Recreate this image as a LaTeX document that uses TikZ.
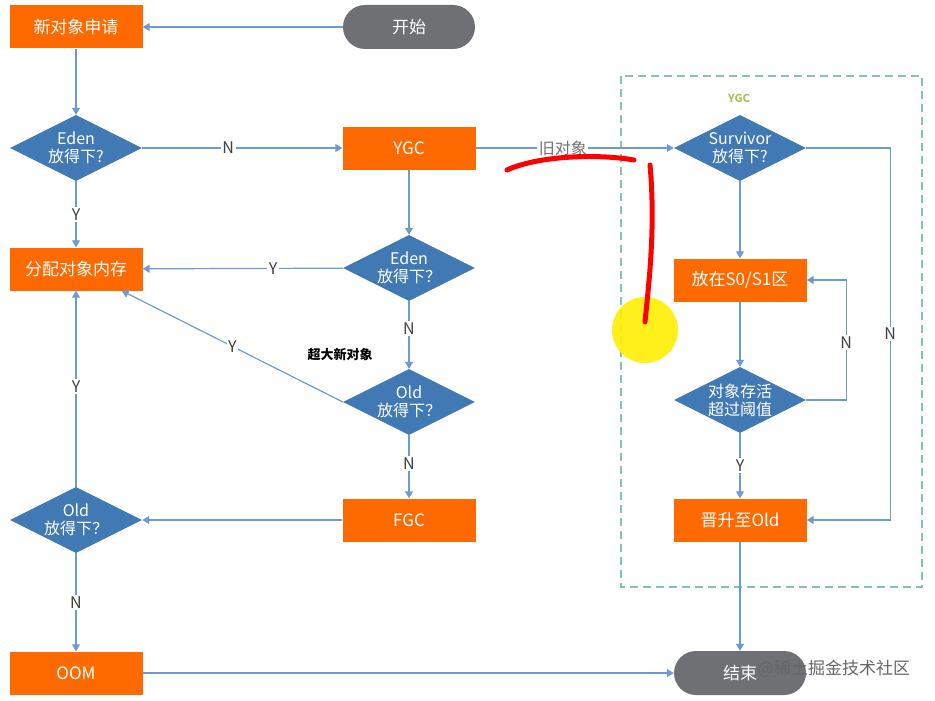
\documentclass[tikz,border=0pt]{standalone}
\usepackage{fontspec}
\setmainfont{Noto Sans CJK SC}
\usetikzlibrary{shapes.geometric,arrows.meta,positioning}
\definecolor{boxorange}{HTML}{FF6A00}
\definecolor{diablue}{HTML}{4179B5}
\definecolor{linkblue}{HTML}{6C9BD2}
\definecolor{endgray}{HTML}{6E7074}
\definecolor{dashgreen}{HTML}{86C3AC}
\definecolor{ygcgreen}{HTML}{A9C45C}
\begin{document}
\begin{tikzpicture}[x=1pt,y=-1pt,
    box/.style={rectangle,fill=boxorange,text=white,minimum width=133pt,minimum height=43pt,inner sep=0pt,font=\fontsize{17}{19}\selectfont},
    decide/.style={diamond,fill=diablue,text=white,minimum width=132pt,minimum height=66pt,inner sep=-14pt,align=center,font=\fontsize{16}{18}\selectfont},
    terminal/.style={rectangle,rounded corners=22pt,fill=endgray,text=white,minimum width=132pt,minimum height=44pt,inner sep=0pt,font=\fontsize{17}{19}\selectfont},
    link/.style={draw=linkblue,line width=1.2pt,-{Triangle[width=8pt,length=7pt]}},
    yn/.style={fill=white,text=black!75,inner sep=1.5pt,font=\fontsize{16}{18}\selectfont}]
\useasboundingbox (0,0) rectangle (935,701);

% YGC area
\draw[dashgreen,line width=1.3pt,dash pattern=on 8pt off 5pt] (621,76) rectangle (922,587);
\node[text=ygcgreen,font=\fontsize{11}{13}\selectfont\bfseries] (ygclabel) at (739,98) {YGC};

% left column
\node[box] (req) at (76,27) {新对象申请};
\node[terminal] (start) at (409,27) {开始};
\node[decide] (eden1) at (76,148) {Eden\\放得下?};
\node[box] (alloc) at (76,269) {分配对象内存};
\node[decide] (old1) at (76,520) {Old\\放得下？};
\node[box] (oom) at (76,673) {OOM};

% middle column
\node[box] (ygc) at (409,148) {YGC};
\node[decide] (eden2) at (409,268) {Eden\\放得下？};
\node[decide] (old2) at (409,402) {Old\\放得下？};
\node[box] (fgc) at (409,520) {FGC};

% right column
\node[decide] (surv) at (740,148) {Survivor\\放得下?};
\node[box] (s01) at (740,280) {放在S0/S1区};
\node[decide] (alive) at (740,400) {对象存活\\超过阈值};
\node[box] (up) at (740,520) {晋升至Old};
\node[terminal] (end) at (740,673) {结束};

% connectors
\draw[link] (start) -- (req);
\draw[link] (req) -- (eden1);
\draw[link] (eden1) -- (ygc) node[yn,pos=0.43] {N};
\draw[link] (eden1) -- (alloc) node[yn,midway] {Y};
\draw[link] (ygc) -- (eden2);
\draw[link] (eden2) -- (alloc) node[yn,pos=0.35] {Y};
\draw[link] (eden2) -- (old2) node[yn,pos=0.4] {N};
\node[font=\fontsize{13}{15}\selectfont\bfseries] (big) at (340,355) {超大新对象};
\draw[link] (old2.west) -- ([xshift=-21pt]alloc.south east) node[yn,midway] {Y};
\draw[link] (old2) -- (fgc) node[yn,pos=0.45] {N};
\draw[link] (fgc) -- (old1);
\draw[link] (old1) -- (alloc) node[yn,pos=0.51] {Y};
\draw[link] (old1) -- (oom) node[yn,midway] {N};
\draw[link] (oom) -- (end);

\draw[link] (ygc) -- (surv) node[yn,pos=0.44,text=black!55] {旧对象};
\draw[link] (surv) -- (s01);
\draw[link] (surv.east) -- ++(84,0) |- (up.east) node[yn,pos=0.25] {N};
\draw[link] (s01) -- (alive);
\draw[link] (alive.east) -- ++(40,0) |- (s01.east) node[yn,pos=0.24] {N};
\draw[link] (alive) -- (up) node[yn,midway] {Y};
\draw[link] (up) -- (end);

% hand marks
\fill[yellow!95!orange,opacity=0.9] (645,330) circle (33);
\draw[red,line width=5pt,line cap=round] (507,170) .. controls (540,155) and (600,154) .. (634,160);
\draw[red,line width=5pt,line cap=round] (650,165) .. controls (656,230) and (648,290) .. (645,322);

% watermark
\node[text=black!60,font=\fontsize{17}{19}\selectfont] (mark) at (834,669) {@稀土掘金技术社区};
\end{tikzpicture}
\end{document}
